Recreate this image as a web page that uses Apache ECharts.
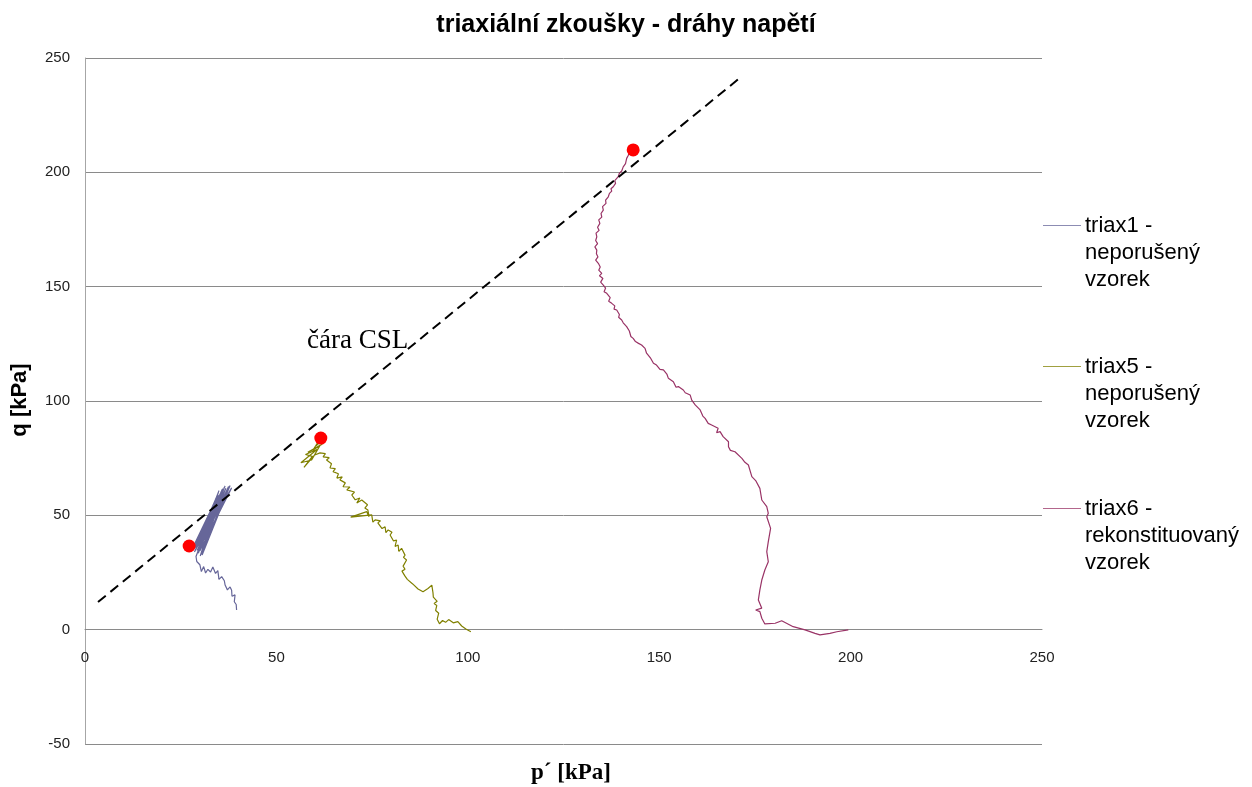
<!DOCTYPE html>
<html>
<head>
<meta charset="utf-8">
<title>triaxiální zkoušky - dráhy napětí</title>
<script src="https://cdn.jsdelivr.net/npm/echarts@6/dist/echarts.min.js"></script>
<style>
  html, body { margin: 0; padding: 0; background: #ffffff; }
  #chart { width: 1252px; height: 787px; }
</style>
</head>
<body>
<div id="chart"></div>
<script>
// Stress paths p' / q [kPa] from three triaxial tests
const seriesNames = [
  'triax1 -\nneporušený\nvzorek',
  'triax5 -\nneporušený\nvzorek',
  'triax6 -\nrekonstituovaný\nvzorek'
];

const triax1 = [
  [39.6,8.6],[39.5,11.0],[39.0,12.2],[39.2,15.2],[38.4,14.6],[38.3,17.2],[37.9,18.7],[37.2,17.4],
  [36.6,19.5],[36.4,21.4],[35.7,23.2],[35.0,22.0],[34.7,25.8],[34.1,24.6],[33.4,27.4],[32.8,25.2],
  [32.1,26.4],[31.5,24.8],[31.0,27.6],[30.4,25.4],[30.0,28.4],[29.5,27.6],[29.2,29.8],[28.7,30.5],
  [29.0,32.0],[31.8,44.6],[34.6,56.5],[32.2,45.0],[29.6,33.4],[35.2,58.8],[30.1,32.2],[33.0,47.6],
  [36.0,60.4],[29.3,34.6],[36.8,61.8],[33.4,47.2],[30.4,33.0],[37.5,62.6],[29.8,35.2],[35.8,61.2],
  [28.6,34.0],[33.6,49.8],[37.9,63.0],[30.6,32.6],[36.4,62.2],[32.6,47.0],[29.2,36.0],[38.3,62.0],
  [30.0,34.4],[35.5,60.0],[28.8,35.8],[37.2,61.0],[29.9,37.0],[34.8,59.0],[28.3,36.4],[36.0,61.6],
  [29.4,33.6],[37.6,62.2],[30.2,36.2],[35.0,60.8],[28.9,34.8],[36.6,62.8],[29.7,36.6],[34.2,57.4],
  [28.4,35.2],[27.6,36.9]
];

const triax5 = [
  [100.8,-0.9],[99.5,0.3],[98.4,1.6],[97.4,3.5],[96.2,3.0],[95.0,4.4],[94.2,3.2],[93.4,4.0],
  [92.6,2.6],[92.0,4.6],[92.4,7.2],[91.6,8.4],[91.9,10.6],[91.2,11.4],[92.0,12.4],[91.0,14.2],
  [90.9,16.2],[90.4,17.0],[90.6,19.5],[89.6,18.0],[88.3,16.6],[87.0,17.8],[85.6,20.0],[84.2,22.0],
  [83.6,23.4],[82.8,25.6],[83.6,26.4],[83.1,27.8],[84.0,30.5],[83.2,31.6],[83.6,32.6],[82.7,35.6],
  [82.0,34.2],[81.8,37.0],[81.0,36.4],[81.4,39.2],[80.6,38.8],[79.7,41.4],[80.2,42.6],[79.2,43.6],
  [78.6,42.4],[78.4,45.0],[77.6,44.2],[76.5,46.7],[77.2,47.6],[75.8,48.0],[75.2,47.0],[74.9,50.2],
  [69.4,49.2],[73.6,51.6],[74.2,49.4],[73.9,52.3],[73.1,53.2],[73.8,54.6],[72.3,56.7],[71.0,55.4],
  [71.8,57.6],[70.6,56.8],[69.7,58.9],[70.4,60.2],[68.4,61.1],[69.2,62.4],[67.4,62.5],[68.0,64.2],
  [66.6,65.5],[67.2,66.8],[65.8,66.3],[66.2,68.2],[64.8,69.1],[65.4,70.4],[64.0,70.7],[64.4,72.6],
  [63.1,74.2],[63.8,75.2],[62.2,75.6],[62.8,77.0],[61.4,77.3],[60.0,76.4],[57.2,71.0],[59.4,75.8],
  [57.6,76.6],[60.6,78.8],[56.4,73.0],[59.2,74.2],[61.4,80.6],[58.2,77.6],[60.0,79.0],[62.0,81.2],
  [59.6,78.6],[61.0,82.4],[60.4,80.4],[61.8,83.0]
];

const triax6 = [
  [199.4,-0.1],[196.4,-0.9],[194.6,-1.6],[192.0,-2.3],[190.7,-1.6],[188.1,-0.1],[185.0,1.3],[182.0,3.9],
  [180.3,2.8],[177.6,2.5],[176.8,5.0],[176.3,7.9],[175.2,8.6],[176.8,9.4],[175.9,13.0],[176.3,17.4],
  [176.8,21.7],[177.6,26.1],[178.5,29.7],[178.1,34.1],[178.5,38.5],[179.1,44.3],[178.1,49.4],[178.5,50.9],
  [178.1,53.8],[176.8,56.7],[176.3,61.8],[175.2,65.2],[174.2,66.9],[173.3,72.0],[172.4,73.2],[171.6,74.9],
  [169.8,77.8],[168.6,78.4],[168.1,80.0],[168.1,82.2],[166.7,84.4],[165.9,86.6],[165.0,86.1],[165.4,88.1],
  [163.7,89.5],[162.8,90.2],[162.0,92.4],[161.4,93.4],[160.7,96.1],[159.4,98.3],[158.5,100.4],[158.1,102.6],
  [156.8,103.6],[156.3,104.8],[155.0,106.3],[154.4,106.0],[153.7,108.4],[152.4,109.9],[152.0,111.8],[151.1,113.6],
  [150.2,113.8],[149.3,115.7],[148.5,116.5],[147.8,118.6],[146.7,120.9],[146.3,123.0],[145.4,124.5],[144.6,125.2],
  [143.8,126.0],[143.2,127.4],[142.6,128.2],[142.2,130.6],[141.5,132.5],[141.0,132.0],[140.6,134.2],[140.2,135.4],
  [139.4,136.6],[139.6,137.8],[138.9,139.8],[138.2,140.2],[138.4,141.6],[137.6,142.7],[136.8,143.6],[137.2,145.2],
  [136.3,147.1],[135.6,147.8],[136.0,149.4],[135.4,150.7],[134.7,152.0],[135.3,153.6],[134.4,154.8],[135.0,155.8],
  [134.2,157.2],[134.6,158.6],[134.1,160.2],[133.4,161.6],[134.0,163.0],[133.6,164.4],[133.7,166.0],[133.2,167.4],
  [133.9,168.8],[133.4,170.2],[133.7,171.8],[133.5,173.4],[134.3,174.6],[133.9,176.0],[134.5,177.7],[134.2,179.2],
  [135.0,180.4],[134.8,182.0],[135.4,183.5],[135.2,185.0],[136.1,186.4],[136.0,187.8],[136.7,189.3],[137.0,190.8],
  [137.6,191.8],[137.4,192.8],[138.0,193.7],[138.6,195.2],[138.4,196.4],[139.3,198.1],[139.6,199.6],[140.2,200.6],
  [140.0,201.4],[140.6,202.4],[141.2,203.8],[141.0,204.6],[141.5,206.1],[141.9,207.4],[142.2,208.6]
];

// failure points (p', q) at the end of each path
const failurePoints = [[27.2,36.6],[61.6,83.8],[143.2,209.8]];

// critical state line end points
const cslLine = [[3.4,12.1],[171.6,242.0]];

// axis ticks
const xTicks = [0, 50, 100, 150, 200, 250];
const yTicks = [-50, 0, 50, 100, 150, 200, 250];

const colors = ['#666699', '#808000', '#993366'];
const gridColor = '#8a8a8a';

// plot area
const gridBox = { left: 85, right: 210, top: 58, bottom: 43 };
const plotHeight = 787 - gridBox.top - gridBox.bottom;
const yMin = yTicks[0], yMax = yTicks[yTicks.length - 1];
// the p' axis sits on q = 0, so lift it from the bottom edge of the plot
const xAxisLift = plotHeight * (0 - yMin) / (yMax - yMin);

const chart = echarts.init(document.getElementById('chart'), null, { renderer: 'canvas' });

// legend beside the plot: short line + three-line caption
const legendTops = [225, 366, 508];
const legendGraphics = [];
seriesNames.forEach((name, i) => {
  legendGraphics.push({
    type: 'line',
    shape: { x1: 1043, y1: legendTops[i] + 0.5, x2: 1081, y2: legendTops[i] + 0.5 },
    style: { stroke: colors[i], lineWidth: 1, opacity: 0.75 }
  });
  legendGraphics.push({
    type: 'text',
    left: 1085,
    top: legendTops[i] - 13,
    style: {
      text: name,
      font: '22px "Liberation Sans", Arial, sans-serif',
      lineHeight: 27,
      fill: '#000000'
    }
  });
});

// axis titles and the CSL caption
const captionGraphics = [
  {
    type: 'text',
    x: 571, y: 773,
    style: {
      text: 'p´ [kPa]',
      font: 'bold 23px "Liberation Serif", "Times New Roman", serif',
      fill: '#000000', align: 'center', verticalAlign: 'middle'
    }
  },
  {
    type: 'text',
    x: 20, y: 400, rotation: Math.PI / 2,
    style: {
      text: 'q [kPa]',
      font: 'bold 22px "Liberation Sans", Arial, sans-serif',
      fill: '#000000', align: 'center', verticalAlign: 'middle'
    }
  },
  {
    type: 'text',
    left: 307,
    top: 327,
    style: {
      text: 'čára CSL',
      font: '27px "Liberation Serif", "Times New Roman", serif',
      fill: '#000000'
    }
  }
];

chart.setOption({
  animation: false,
  backgroundColor: '#ffffff',
  title: {
    text: 'triaxiální zkoušky - dráhy napětí',
    left: 'center',
    top: 8,
    textStyle: {
      fontFamily: '"Liberation Sans", Arial, sans-serif',
      fontSize: 25,
      fontWeight: 'bold',
      color: '#000000'
    }
  },
  grid: Object.assign({ containLabel: false }, gridBox),
  xAxis: {
    type: 'value',
    min: xTicks[0],
    max: xTicks[xTicks.length - 1],
    interval: 50,
    position: 'bottom',
    offset: -xAxisLift,
    axisLine: { show: true, onZero: false, lineStyle: { color: gridColor, width: 1 } },
    axisTick: { show: false },
    splitLine: { show: false },
    axisLabel: {
      margin: 21,
      fontFamily: '"Liberation Sans", Arial, sans-serif',
      fontSize: 15,
      color: '#222222'
    }
  },
  yAxis: {
    type: 'value',
    min: yMin,
    max: yMax,
    interval: 50,
    axisLine: { show: true, onZero: false, lineStyle: { color: '#a6a6a6', width: 1 } },
    axisTick: { show: false },
    splitLine: { show: true, lineStyle: { color: gridColor, width: 1 } },
    axisLabel: {
      margin: 15,
      fontFamily: '"Liberation Sans", Arial, sans-serif',
      fontSize: 15,
      color: '#222222'
    }
  },
  graphic: legendGraphics.concat(captionGraphics),
  series: [
    {
      name: seriesNames[0], type: 'line', data: triax1, symbol: 'none',
      lineStyle: { color: colors[0], width: 1.2 }, z: 3
    },
    {
      name: seriesNames[1], type: 'line', data: triax5, symbol: 'none',
      lineStyle: { color: colors[1], width: 1.2 }, z: 3
    },
    {
      name: seriesNames[2], type: 'line', data: triax6, symbol: 'none',
      lineStyle: { color: colors[2], width: 1.2 }, z: 3
    },
    {
      name: 'CSL', type: 'line', data: cslLine, symbol: 'none',
      lineStyle: { color: '#000000', width: 2, type: [10, 6] }, z: 4
    },
    {
      name: 'failure', type: 'scatter', data: failurePoints, symbol: 'circle', symbolSize: 13,
      itemStyle: { color: '#ff0000', opacity: 1 }, z: 5
    }
  ]
});
</script>
</body>
</html>
